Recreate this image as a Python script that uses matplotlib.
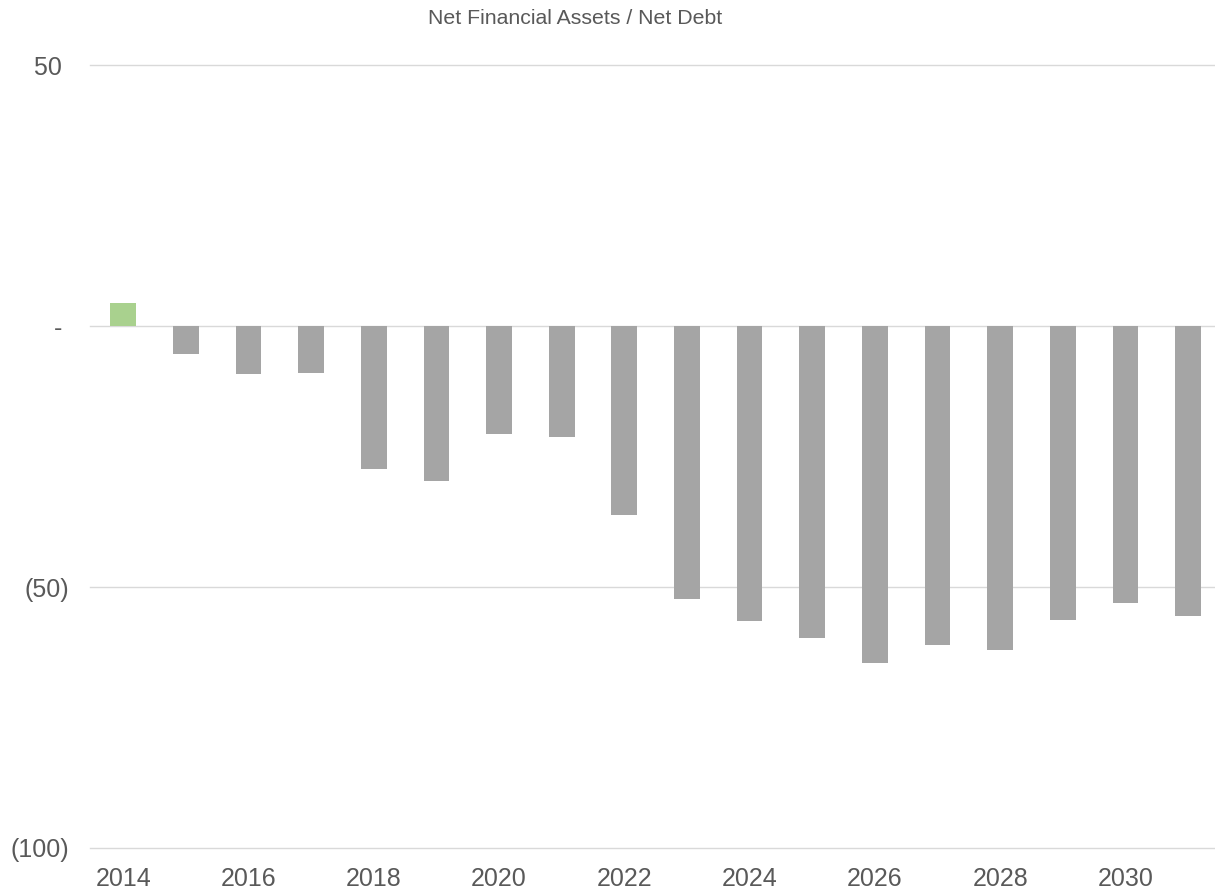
import matplotlib.pyplot as plt

# Net financial assets (+) / net debt (-) by year
years = list(range(2014, 2032))
values = [4.4, -5.3, -9.2, -8.9, -27.4, -29.7, -20.7, -21.2, -36.2,
          -52.3, -56.4, -59.7, -64.5, -61.0, -62.1, -56.2, -53.1, -55.5]
y_ticks = [50, 0, -50, -100]
y_labels = ['50 ', '- ', '(50)', '(100)']

plt.rcParams['font.family'] = ['Liberation Sans', 'DejaVu Sans']
text_color = '#595959'

fig = plt.figure(figsize=(12.15, 8.9), dpi=100)
ax = fig.add_axes([90 / 1215, 1 - 848 / 890, 1 - 90 / 1215, (848 - 65.5) / 890])

colors = ['#a9d18e' if v > 0 else '#a5a5a5' for v in values]
ax.bar(years, values, width=0.41, color=colors, zorder=3)

ax.set_ylim(-100, 50)
ax.set_xlim(2013.47, 2031.43)
ax.set_yticks(y_ticks)
ax.set_yticklabels(y_labels)
ax.set_xticks(years[::2])
ax.set_xticklabels([str(y) for y in years[::2]])

# horizontal gridlines, kept unclipped so the ones on the edges show fully
for y in y_ticks:
    ax.axhline(y, color='#d9d9d9', linewidth=1, zorder=0, clip_on=False)
for side in ['top', 'right', 'left', 'bottom']:
    ax.spines[side].set_visible(False)
ax.tick_params(axis='both', length=0, labelsize=18, colors=text_color)
ax.tick_params(axis='y', pad=15)
ax.tick_params(axis='x', pad=14)

fig.text(575 / 1215, 1 - 18 / 890, 'Net Financial Assets / Net Debt',
         ha='center', va='center', fontsize=15.3, color=text_color)

fig.savefig('out.png', dpi=100, facecolor='white')
